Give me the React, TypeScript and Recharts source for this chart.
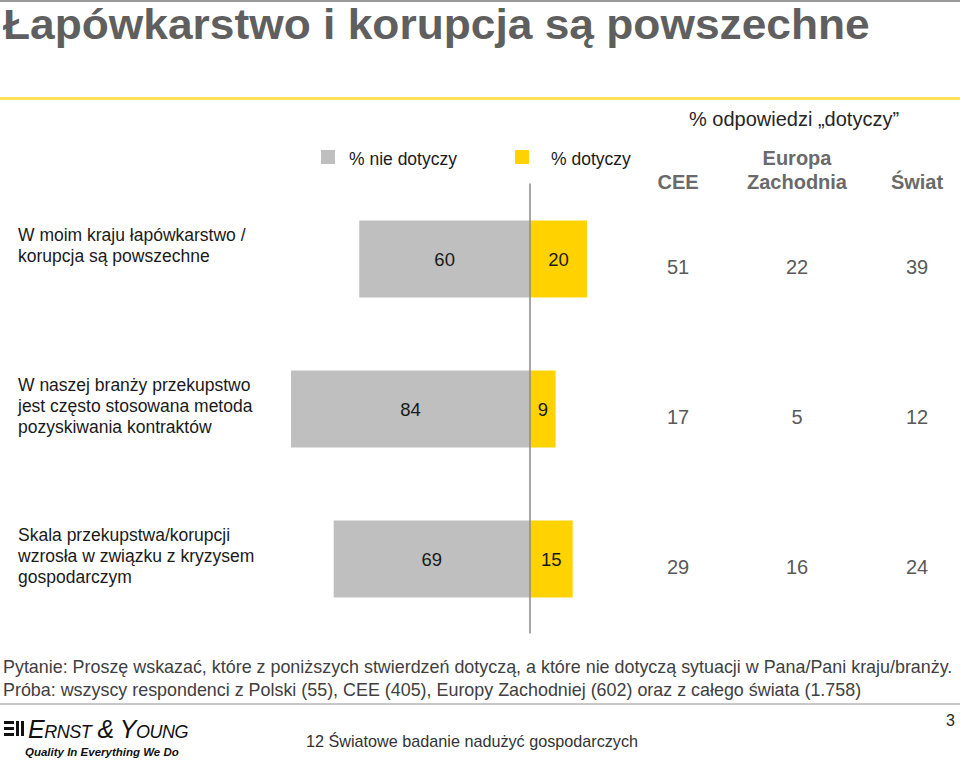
import { BarChart, Bar, XAxis, YAxis, ReferenceLine, LabelList } from 'recharts';

const statements = [
    ['W moim kraju łapówkarstwo /', 'korupcja są powszechne'],
    ['W naszej branży przekupstwo', 'jest często stosowana metoda', 'pozyskiwania kontraktów'],
    ['Skala przekupstwa/korupcji', 'wzrosła w związku z kryzysem', 'gospodarczym'],
];
const notApplies = [60, 84, 69];
const applies = [20, 9, 15];
const regionNames = ['CEE', 'Europa Zachodnia', 'Świat'];
const ceeValues = [51, 17, 29];
const westEuropeValues = [22, 5, 16];
const worldValues = [39, 12, 24];

const data = statements.map((lines, i) => ({
    name: lines.join(' '),
    notApplies: -notApplies[i],
    applies: applies[i],
}));

const FONT = '"Liberation Sans", Arial, sans-serif';
const GRAY = '#bfbfbf';
const YELLOW = '#ffd200';
const regionColumnsX = [678, 797, 917];

function StatementTick({ y, index }: any) {
    const lines = statements[index] || [];
    return (
        <text x={18} y={y - 24} fontFamily={FONT} fontSize={17.5} fill="#1a1a1a" dominantBaseline="central">
            {lines.map((l, i) => (
                <tspan key={i} x={18} dy={i === 0 ? 0 : 21}>{l}</tspan>
            ))}
        </text>
    );
}

function RegionValues(props: any) {
    const { y, height, index } = props;
    const vals = [ceeValues[index], westEuropeValues[index], worldValues[index]];
    return (
        <g>
            {vals.map((v, i) => (
                <text key={i} x={regionColumnsX[i]} y={y + height / 2 + 8} textAnchor="middle"
                    dominantBaseline="central" fontFamily={FONT} fontSize={20} fill="#595959">
                    {v}
                </text>
            ))}
        </g>
    );
}

const abs = (v: any) => Math.abs(Number(v));

export default function App() {
    return (
        <div style={{ position: 'absolute', left: 0, top: 0, width: 960, height: 761, overflow: 'hidden', background: '#fff', fontFamily: FONT }}>
            <div style={{ position: 'absolute', left: 0, top: 0, width: 960, height: 2, background: '#9a9a9a' }} />
            <div style={{
                position: 'absolute', left: 3, top: 0, fontSize: 42, fontWeight: 'bold', color: '#5f5f5f', lineHeight: '50px',
                whiteSpace: 'nowrap', transform: 'scaleX(1.055)', transformOrigin: 'left center',
            }}>
                Łapówkarstwo i korupcja są powszechne
            </div>
            <div style={{ position: 'absolute', left: 0, top: 97, width: 960, height: 3, background: '#ffe15a' }} />

            <div style={{ position: 'absolute', left: 594, width: 400, top: 107, textAlign: 'center', fontSize: 20, color: '#262626', lineHeight: '24px' }}>
                % odpowiedzi „dotyczy”
            </div>
            {regionNames.map((r, i) => (
                <div key={r} style={{
                    position: 'absolute', left: regionColumnsX[i] - 80, width: 160, bottom: 761 - 194,
                    textAlign: 'center', fontSize: 20, fontWeight: 'bold', color: '#6a6a6a', lineHeight: '24px',
                }}>
                    {r.split(' ').map((w, j) => <div key={j}>{w}</div>)}
                </div>
            ))}

            <div style={{ position: 'absolute', left: 321, top: 150, width: 14, height: 14, background: GRAY }} />
            <div style={{ position: 'absolute', left: 349, top: 148, fontSize: 17.5, color: '#1a1a1a', lineHeight: '22px' }}>% nie dotyczy</div>
            <div style={{ position: 'absolute', left: 515, top: 150, width: 14, height: 14, background: YELLOW }} />
            <div style={{ position: 'absolute', left: 551, top: 148, fontSize: 17.5, color: '#1a1a1a', lineHeight: '22px' }}>% dotyczy</div>

            <div style={{ position: 'absolute', left: 0, top: 0 }}>
                <BarChart width={960} height={761} layout="vertical" data={data} stackOffset="sign"
                    margin={{ top: 183.5, right: 145.5, bottom: 127.5, left: 0 }}>
                    <XAxis type="number" domain={[-100, 100]} hide />
                    <YAxis type="category" dataKey="name" width={245.5} axisLine={false} tickLine={false}
                        tick={<StatementTick />} interval={0} />
                    <Bar dataKey="notApplies" stackId="a" fill={GRAY} barSize={77} isAnimationActive={false}>
                        <LabelList dataKey="notApplies" position="center" formatter={abs}
                            style={{ fontFamily: FONT, fontSize: 18.5, fill: '#1a1a1a' }} />
                    </Bar>
                    <Bar dataKey="applies" stackId="a" fill={YELLOW} barSize={77} isAnimationActive={false}>
                        <LabelList dataKey="applies" position="center"
                            style={{ fontFamily: FONT, fontSize: 18.5, fill: '#1a1a1a' }} />
                        <LabelList dataKey="applies" content={<RegionValues />} />
                    </Bar>
                    <ReferenceLine x={0} stroke="#8a8a8a" strokeWidth={1.5} ifOverflow="visible" />
                </BarChart>
            </div>

            <div style={{ position: 'absolute', left: 3, top: 656, fontSize: 17.9, color: '#404040', lineHeight: '23px', whiteSpace: 'nowrap' }}>
                <div>Pytanie: Proszę wskazać, które z poniższych stwierdzeń dotyczą, a które nie dotyczą sytuacji w Pana/Pani kraju/branży.</div>
                <div>Próba: wszyscy respondenci z Polski (55), CEE (405), Europy Zachodniej (602) oraz z całego świata (1.758)</div>
            </div>
            <div style={{ position: 'absolute', left: 0, top: 703, width: 960, height: 2, background: '#c8c8c8' }} />
            <div style={{ position: 'absolute', left: 946, top: 711, fontSize: 16, color: '#262626', lineHeight: '20px' }}>3</div>

            <svg style={{ position: 'absolute', left: 4, top: 720 }} width={22} height={20}>
                <rect x={0} y={1} width={10} height={3} fill="#111" />
                <rect x={0} y={7} width={10} height={3} fill="#111" />
                <rect x={0} y={13} width={10} height={3} fill="#111" />
                <rect x={12} y={1} width={3} height={15} fill="#111" />
                <rect x={17} y={1} width={3} height={15} fill="#111" />
            </svg>
            <div style={{ position: 'absolute', left: 28, top: 715, fontSize: 25, fontVariant: 'small-caps', fontStyle: 'italic', color: '#111', lineHeight: '28px', letterSpacing: -0.5, whiteSpace: 'nowrap' }}>
                Ernst &amp; Young
            </div>
            <div style={{ position: 'absolute', left: 25, top: 744, fontSize: 11.5, fontStyle: 'italic', fontWeight: 'bold', color: '#111', lineHeight: '16px', whiteSpace: 'nowrap' }}>
                Quality In Everything We Do
            </div>
            <div style={{ position: 'absolute', left: 306, top: 731, fontSize: 16.2, color: '#333', lineHeight: '20px' }}>
                12 Światowe badanie nadużyć gospodarczych
            </div>
        </div>
    );
}
